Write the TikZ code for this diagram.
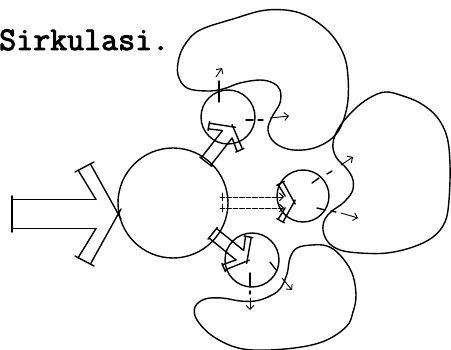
\documentclass[tikz,border=0pt]{standalone}
\usepackage{fontspec}
\newfontfamily\typewriter[FakeBold=3]{Latin Modern Mono}
\usetikzlibrary{arrows.meta}

% open chevron head pointing along +x, tip at the origin
\newcommand\chevhead{%
  \draw[ink] (-22,14.5) -- (-40,44) (-22,-14.5) -- (-40,-44)
        (3,-5) -- (-27,49) (3,5) -- (-27,-49)
        (-43,42) -- (-24,52) (-43,-42) -- (-24,-52);}
% double-walled shaft behind a chevron head, closed by a bar
\newcommand\pipeshaft[1]{%
  \draw[ink] (-#1,14.5) -- (-22,14.5) (-#1,-14.5) -- (-22,-14.5)
        (-#1,-18) -- (-#1,18);}

\begin{document}
\begin{tikzpicture}[x=1pt,y=-1pt,line cap=round,line join=round,
  ink/.style={line width=1.4pt},
  thinink/.style={line width=0.9pt},
  tipped/.style={-{Straight Barb[length=4pt,width=8pt]}},
  lobe/.style={line width=1.4pt},
  organ/.style={circle,draw,line width=1.4pt,inner sep=0pt,outer sep=0pt}]
\useasboundingbox (0,0) rectangle (451,350);

\node[anchor=base west,inner sep=0pt,font=\typewriter\fontsize{33}{33}\selectfont] (title) at (-1,50) {Sirkulasi.};

% central body and the three satellites
\node[organ,minimum size=110pt] (heart) at (173,203) {};
\node[organ,minimum size=54pt] (sat1) at (228,117) {};
\node[organ,minimum size=52pt] (sat2) at (303,196) {};
\node[organ,minimum size=54pt] (sat3) at (252,260) {};

% the three lobes around the satellites
\draw[lobe] plot[smooth cycle,tension=0.6] coordinates {
  (187,88) (178,75) (179,58) (186,43) (200,30) (233,19) (267,10) (300,13)
  (327,30) (343,53) (348,77) (347,107) (337,133) (317,147) (293,150)
  (275,143) (268,130) (272,117) (280,103) (280,90) (273,83) (260,80)
  (240,83) (223,89) (207,91)};
\draw[lobe] plot[smooth cycle,tension=0.6] coordinates {
  (333,143) (340,126) (357,107) (373,96) (386,92) (400,95) (420,103)
  (437,117) (447,137) (450,165) (449,200) (445,222) (433,237) (413,247)
  (387,253) (360,253) (340,250) (328,242) (323,230) (325,219) (332,211)
  (343,203) (352,192) (353,180) (347,169) (336,157)};
\draw[lobe] plot[smooth cycle,tension=0.6] coordinates {
  (297,248) (312,245) (327,246) (340,255) (352,273) (356,295) (353,312)
  (346,327) (322,342) (285,349) (243,349) (214,337) (197,320) (195,307)
  (205,299) (222,298) (240,301) (255,301) (268,297) (280,289) (287,274)
  (290,258)};

% inflow arrow
\begin{scope}[shift={(118,214)}]
  \chevhead \pipeshaft{106}
\end{scope}
% pipes to the upper and lower satellites
\begin{scope}[shift={(233,127)},rotate=52,scale=0.42]
  \chevhead \pipeshaft{105}
\end{scope}
\begin{scope}[shift={(247,261)},rotate=-39,scale=0.42]
  \chevhead \pipeshaft{105}
\end{scope}
% dashed pair to the middle satellite
\draw[thinink,tipped,dash pattern=on 5pt off 1.5pt] (220,197) -- (284,197);
\draw[thinink,tipped,dash pattern=on 5pt off 1.5pt] (220,208) -- (284,208);
\draw[thinink] (222,193) -- (222,201) (222,204) -- (222,212);
\begin{scope}[shift={(294,202)},scale=0.4]
  \chevhead
\end{scope}

% outflows from the upper satellite
\draw[ink] (219,81) -- (219,102);
\draw[thinink,tipped] (216,77) -- (222,68);
\draw[ink] (246,120) -- (253,120) (258,120) -- (263,120);
\draw[thinink,tipped] (270,118) -- (289,116);
% outflows from the middle satellite
\draw[ink] (312,183) -- (319,178) (327,174) -- (332,171);
\draw[thinink,tipped] (341,165) -- (353,157);
\draw[ink] (317,208) -- (325,210) (331,211) -- (336,212);
\draw[thinink,tipped] (341,213) -- (358,218);
% outflows from the lower satellite
\draw[ink] (270,262) -- (276,270);
\draw[thinink,tipped] (282,278) -- (292,290);
\draw[ink] (250,273) -- (250,287) (250,291) -- (250,294);
\draw[thinink,tipped] (250,298) -- (250,310);
\end{tikzpicture}
\end{document}
